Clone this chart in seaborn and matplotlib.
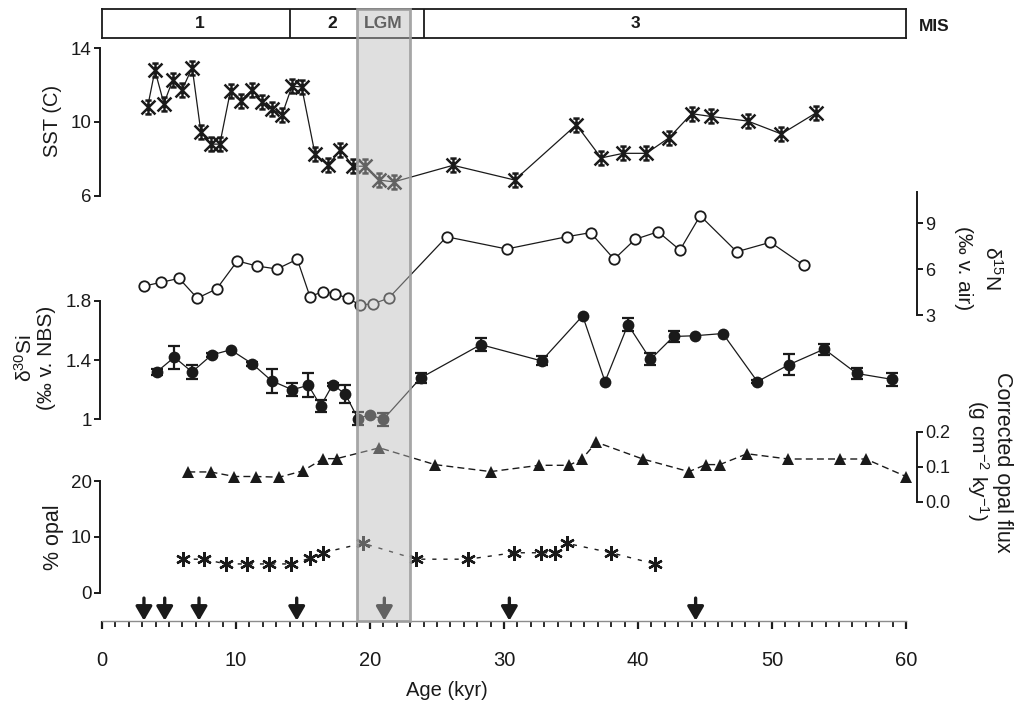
import numpy as np
import matplotlib
matplotlib.use('Agg')
import matplotlib.pyplot as plt
import matplotlib.transforms as mtransforms
from matplotlib.path import Path
from matplotlib.patches import Rectangle
import seaborn as sns

# ---- data (ages in kyr) ----
sst_age = [3.4, 3.95, 4.62, 5.29, 5.98, 6.73, 7.38, 8.1, 8.79, 9.59, 10.34, 11.2,
           11.95, 12.65, 13.44, 14.18, 14.9, 15.9, 16.86, 17.79, 18.73, 19.62, 20.66,
           21.78, 26.2, 30.8, 35.4, 37.25, 38.9, 40.63, 42.33, 44.0, 45.45, 48.2,
           50.7, 53.3]
sst = [10.8, 12.8, 11.0, 12.3, 11.75, 12.95, 9.45, 8.8, 8.8, 11.7, 11.15, 11.75,
       11.1, 10.7, 10.4, 11.95, 11.9, 8.25, 7.65, 8.5, 7.6, 7.6, 6.85, 6.75, 7.65,
       6.85, 9.85, 8.05, 8.3, 8.3, 9.15, 10.45, 10.3, 10.05, 9.35, 10.5]

d15n_age = [3.16, 4.43, 5.75, 7.11, 8.56, 10.1, 11.54, 13.06, 14.57, 15.52, 16.47,
            17.41, 18.34, 19.25, 20.22, 21.39, 25.72, 30.2, 34.67, 36.46, 38.22,
            39.78, 41.5, 43.13, 44.64, 47.37, 49.88, 52.39]
d15n = [4.9, 5.14, 5.4, 4.1, 4.71, 6.54, 6.21, 6.01, 6.65, 4.2, 4.53, 4.38, 4.1,
        3.66, 3.73, 4.1, 8.12, 7.32, 8.12, 8.39, 6.65, 7.95, 8.45, 7.25, 9.5, 7.14,
        7.76, 6.25]

d30si_age = [4.08, 5.4, 6.72, 8.18, 9.6, 11.22, 12.66, 14.2, 15.4, 16.32, 17.22,
             18.16, 19.1, 19.98, 21.0, 23.78, 28.27, 32.8, 35.87, 37.54, 39.25,
             40.93, 42.65, 44.23, 46.33, 48.91, 51.28, 53.9, 56.32, 58.96]
d30si = [1.32, 1.42, 1.32, 1.435, 1.47, 1.375, 1.26, 1.2, 1.23, 1.09, 1.235, 1.17,
         1.005, 1.03, 1.0, 1.28, 1.505, 1.395, 1.70, 1.255, 1.64, 1.405, 1.56,
         1.565, 1.58, 1.255, 1.37, 1.475, 1.31, 1.27]
d30si_err = [0.022, 0.077, 0.045, 0.012, 0.0, 0.012, 0.082, 0.043, 0.08, 0.04,
             0.012, 0.06, 0.045, 0.0, 0.045, 0.035, 0.045, 0.03, 0.0, 0.0, 0.043,
             0.04, 0.034, 0.0, 0.0, 0.012, 0.07, 0.037, 0.036, 0.043]

flux_age = [6.44, 8.11, 9.88, 11.49, 13.23, 14.98, 16.52, 17.51, 20.7, 24.84, 29.0,
            32.63, 34.85, 35.82, 36.9, 40.35, 43.8, 45.07, 46.1, 48.14, 51.2, 55.05,
            57.0, 60.0]
flux = [0.085, 0.085, 0.072, 0.072, 0.07, 0.088, 0.123, 0.123, 0.154, 0.106, 0.086,
        0.104, 0.104, 0.122, 0.17, 0.122, 0.086, 0.106, 0.106, 0.137, 0.122, 0.122,
        0.122, 0.072]

opal_age = [6.02, 7.61, 9.23, 10.8, 12.44, 14.08, 15.52, 16.47, 19.49, 23.43, 27.34,
            30.72, 32.76, 33.78, 34.67, 38.0, 41.25]
opal = [6.0, 6.0, 5.15, 5.15, 5.15, 5.15, 6.15, 7.15, 8.85, 6.0, 6.0, 7.15, 7.15,
        7.15, 8.85, 7.15, 5.15]

arrow_age = [3.13, 4.68, 7.24, 14.53, 21.07, 30.4, 44.3]

mis_bounds = [0, 14, 24, 60]
mis_labels = ['1', '2', 'LGM', '3']
mis_label_x = [7.3, 17.2, 21.0, 39.8]
lgm = (19, 23)

# ---- style ----
sns.set_theme(style='white')
plt.rcParams['font.family'] = ['Liberation Sans', 'DejaVu Sans']
plt.rcParams['mathtext.fontset'] = 'custom'
plt.rcParams['mathtext.rm'] = 'Liberation Sans'
plt.rcParams['mathtext.it'] = 'Liberation Sans:italic'
plt.rcParams['text.color'] = 'k'
plt.rcParams['axes.labelcolor'] = 'k'
plt.rcParams['xtick.color'] = 'k'
plt.rcParams['ytick.color'] = 'k'

W, H = 1014, 704
X0, X1 = 102, 906          # pixel columns of age 0 and 60
fig = plt.figure(figsize=(W / 100, H / 100), dpi=100)


def px_axes(top, bottom, z=1):
    ax = fig.add_axes([X0 / W, 1 - bottom / H, (X1 - X0) / W, (bottom - top) / H])
    ax.set_xlim(0, 60)
    ax.patch.set_alpha(0)
    ax.set_zorder(z)
    for s in ax.spines.values():
        s.set_visible(False)
    ax.set_xticks([])
    ax.set_xlabel('')
    return ax


def left_axis(ax, ticks, labels):
    ax.spines['left'].set_visible(True)
    ax.spines['left'].set_color('k')
    ax.spines['left'].set_linewidth(1.4)
    ax.spines['left'].set_position(('outward', 1.5))
    ax.set_yticks(ticks, labels)
    ax.tick_params(axis='y', left=True, direction='out', length=4, width=1.4,
                   colors='k', labelsize=13.5, pad=2)
    ax.set_ylabel('')


def right_axis(ax, ticks, labels):
    ax.spines['right'].set_visible(True)
    ax.spines['right'].set_color('k')
    ax.spines['right'].set_linewidth(1.4)
    ax.spines['right'].set_position(('outward', 8))
    ax.yaxis.tick_right()
    ax.set_yticks(ticks, labels)
    ax.tick_params(axis='y', right=True, left=False, direction='out', length=4,
                   width=1.4, colors='k', labelsize=13, pad=2)
    ax.set_ylabel('')


# SST marker: X with a vertical stroke and short caps
star = Path([(-1, -1), (1, 1), (-1, 1), (1, -1), (-0.45, 1), (0.45, 1),
             (-0.45, -1), (0.45, -1), (0, -1), (0, 1)],
            [Path.MOVETO, Path.LINETO] * 5)

# base axis with the age scale and arrows
base = px_axes(9.3, 620.7, z=0)
base.set_ylim(0, 1)
base.spines['bottom'].set_visible(True)
base.spines['bottom'].set_color('#8c8c8c')
base.spines['bottom'].set_linewidth(1.0)
base.set_xticks(np.arange(0, 61, 10))
base.set_xticks(np.arange(0, 61, 1), minor=True)
base.tick_params(axis='x', which='major', bottom=True, direction='out', length=6,
                 width=1.6, colors='k', labelsize=14.5, pad=16)
base.tick_params(axis='x', which='minor', bottom=True, direction='out', length=4,
                 width=1.3, colors='k')
base.set_yticks([])
trans = mtransforms.blended_transform_factory(base.transData, base.transAxes)
for a in arrow_age:
    base.annotate('', xy=(a, 0.0), xytext=(a, 0.037), xycoords=trans, textcoords=trans,
                  arrowprops=dict(arrowstyle='-|>,head_length=0.6,head_width=0.35',
                                  lw=2.4, color='k', shrinkA=0, shrinkB=0,
                                  mutation_scale=14))

# MIS box
mis = px_axes(9.3, 38.3, z=2)
for s in mis.spines.values():
    s.set_visible(True)
    s.set_color('k')
    s.set_linewidth(1.3)
mis.set_yticks([])
for b in mis_bounds[1:-1]:
    mis.axvline(b, color='k', lw=1.3)
mis_trans = mtransforms.blended_transform_factory(mis.transData, mis.transAxes)
for lab, xx in zip(mis_labels, mis_label_x):
    mis.text(xx, 0.5, lab, ha='center', va='center', fontsize=12.5, fontweight='bold',
             family=['Liberation Sans Narrow', 'Liberation Sans'], transform=mis_trans)
mis.text(62.1, 0.42, 'MIS', ha='center', va='center', fontsize=12.5, fontweight='bold',
         family=['Liberation Sans Narrow', 'Liberation Sans'], transform=mis_trans)

# SST
ax_sst = px_axes(48.3, 195.7, z=3)
sns.lineplot(x=sst_age, y=sst, ax=ax_sst, color='k', lw=0.9, marker=star, ms=10,
             mew=1.8, mec='k', mfc='none', sort=False, errorbar=None, clip_on=False)
ax_sst.set_ylim(6, 14)
left_axis(ax_sst, [6, 10, 14], ['6', '10', '14'])

# d15N
ax_n = px_axes(191.7, 315, z=3)
sns.lineplot(x=d15n_age, y=d15n, ax=ax_n, color='k', lw=0.9, marker='o', ms=7.5,
             mew=1.3, mec='k', mfc='white', sort=False, errorbar=None, clip_on=False)
ax_n.set_ylim(3, 11.07)
right_axis(ax_n, [3, 6, 9], ['3', '6', '9'])

# d30Si
ax_si = px_axes(301, 419.3, z=3)
mask = np.array(d30si_err) > 0
ax_si.errorbar(np.array(d30si_age)[mask], np.array(d30si)[mask],
               yerr=np.array(d30si_err)[mask], fmt='none', ecolor='k', elinewidth=1.6,
               capsize=4.5, capthick=1.6, clip_on=False)
sns.lineplot(x=d30si_age, y=d30si, ax=ax_si, color='k', lw=0.9, marker='o', ms=8.5,
             mew=0, mfc='k', sort=False, errorbar=None, clip_on=False)
ax_si.set_ylim(1.0, 1.8)
left_axis(ax_si, [1.0, 1.4, 1.8], ['1', '1.4', '1.8'])

# corrected opal flux
ax_f = px_axes(431.7, 501.7, z=3)
sns.lineplot(x=flux_age, y=flux, ax=ax_f, color='k', lw=1.0, ls=(0, (5, 3)),
             marker='^', ms=8.5, mew=0, mfc='k', sort=False, errorbar=None, clip_on=False)
ax_f.set_ylim(0, 0.2)
right_axis(ax_f, [0.0, 0.1, 0.2], ['0.0', '0.1', '0.2'])

# % opal
ax_o = px_axes(481, 592.7, z=3)
sns.lineplot(x=opal_age, y=opal, ax=ax_o, color='k', lw=1.0, ls=(0, (3, 5)),
             marker=(6, 2, 0), ms=10.5, mew=1.7, mec='k', sort=False, errorbar=None,
             clip_on=False)
ax_o.set_ylim(0, 20)
left_axis(ax_o, [0, 10, 20], ['0', '10', '20'])

# LGM band drawn over everything (semi transparent)
over = px_axes(9.3, 620.7, z=10)
over.set_ylim(0, 1)
over.set_yticks([])
over.add_patch(Rectangle((lgm[0], 0), lgm[1] - lgm[0], 1,
                         transform=mtransforms.blended_transform_factory(over.transData, over.transAxes),
                         facecolor=(0.73, 0.73, 0.73, 0.45),
                         edgecolor=(0.62, 0.62, 0.62, 0.9), lw=2.0, clip_on=False))


# axis titles
def ftext(x, y, s, rot, size):
    fig.text(x / W, 1 - y / H, s, rotation=rot, ha='center', va='center', fontsize=size,
             rotation_mode='anchor', color='k')


ftext(52, 121, 'SST (C)', 90, 14.5)
ftext(25, 358, 'δ$^{30}$Si', 90, 15)
ftext(46, 358, '(‰ v. NBS)', 90, 15)
ftext(53, 537, '% opal', 90, 15.5)
ftext(992, 268, 'δ$^{15}$N', 270, 15)
ftext(963, 268, '(‰ v. air)', 270, 15)
ftext(1003, 462, 'Corrected opal flux', 270, 15.5)
ftext(978, 461, '(g cm$^{-2}$ ky$^{-1}$)', 270, 15)
ftext(447, 691, 'Age (kyr)', 0, 14.5)

fig.savefig('out.png', dpi=100)
